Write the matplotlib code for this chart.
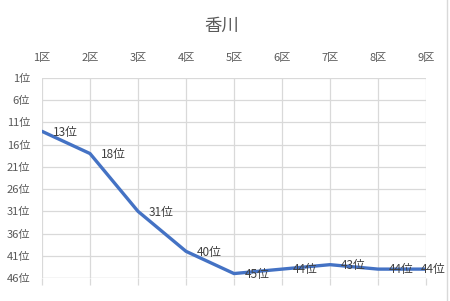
import matplotlib
matplotlib.use("Agg")
import matplotlib.pyplot as plt
from matplotlib.lines import Line2D

plt.rcParams['font.family'] = ['Noto Sans CJK JP', 'DejaVu Sans']

categories = ["1区", "2区", "3区", "4区", "5区", "6区", "7区", "8区", "9区"]
ranks = [13, 18, 31, 40, 45, 44, 43, 44, 44]
yticks = [1, 6, 11, 16, 21, 26, 31, 36, 41, 46]
ytick_labels = [f"{v}位" for v in yticks]
title = "香川"

W, H = 450, 301
fig = plt.figure(figsize=(W/100, H/100), dpi=100)
ax = fig.add_axes([42/W, 1-278/H, (426-42)/W, (278-78)/H])

x = list(range(len(categories)))
ax.plot(x, ranks, color='#4472C4', linewidth=2.4, solid_capstyle='round', zorder=3)
for i, (xi, r) in enumerate(zip(x, ranks)):
    dx = 8 if i < len(x) - 1 else -4
    ax.annotate(f"{r}位", (xi, r), xytext=(dx, -0.5), textcoords='offset points',
                ha='left', va='center', fontsize=8.5, color='#404040', zorder=4,
                annotation_clip=False)

ax.set_xlim(0, len(categories)-1)
ax.set_ylim(46, 1)
ax.set_xticks(x)
ax.set_xticklabels(categories)
ax.set_yticks(yticks)
ax.set_yticklabels(ytick_labels)
ax.grid(True, color='#d9d9d9', linewidth=0.9)
ax.set_axisbelow(True)
for s in ax.spines.values():
    s.set_visible(False)
ax.tick_params(axis='x', bottom=True, top=False, labelbottom=False, labeltop=True,
               length=5, color='#d9d9d9', width=0.9, pad=6, labelsize=8, labelcolor='#595959')
ax.tick_params(axis='y', left=False, length=0, pad=8.5, labelsize=8, labelcolor='#595959')
ax.axhline(46, color='#d9d9d9', linewidth=0.9, zorder=1)

fig.text(222/W, 1-26/H, title, ha='center', va='center', fontsize=12.5, color='#595959')
fig.add_artist(Line2D([447/W, 447/W], [0, 1], transform=fig.transFigure, color='#d9d9d9', linewidth=1))

fig.savefig("out.png", dpi=100)
